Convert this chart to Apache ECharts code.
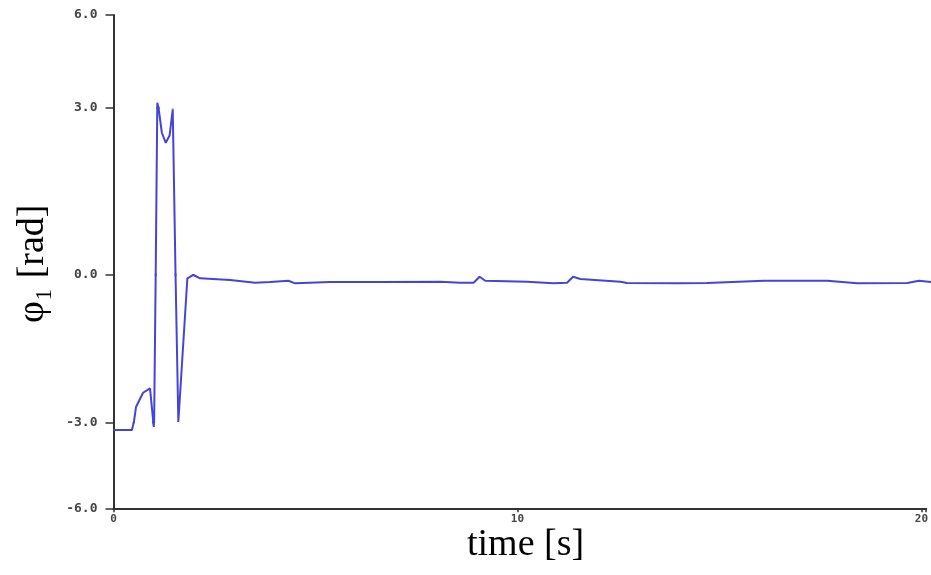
<!DOCTYPE html>
<html>
<head>
<meta charset="utf-8">
<script src="https://cdn.jsdelivr.net/npm/echarts@6/dist/echarts.min.js"></script>
<style>html,body{margin:0;padding:0;background:#fff}#c{width:931px;height:575px}</style>
</head>
<body>
<div id="c"></div>
<script>
// time [s]
const times = [0, 0.456, 0.554, 0.727, 0.899, 0.948, 0.998, 1.079, 1.190, 1.286, 1.380, 1.458, 1.596, 1.818, 1.966, 2.131, 2.869, 3.485, 3.855, 4.305, 4.470, 5.333, 6.564, 8.042, 8.534, 8.862, 9.010, 9.150, 10.177, 10.833, 11.163, 11.310, 11.490, 12.475, 12.640, 13.872, 14.611, 16.005, 17.567, 18.305, 19.537, 19.823, 20.12];
// phi1 [rad]
const phi1 = [-3.27, -3.27, -2.69, -2.40, -2.31, -2.30, -3.16, 3.16, 2.55, 2.37, 2.50, 2.97, -2.99, -0.073, -0.006, -0.073, -0.108, -0.163, -0.148, -0.122, -0.175, -0.148, -0.148, -0.142, -0.163, -0.163, -0.041, -0.122, -0.142, -0.175, -0.163, -0.041, -0.087, -0.142, -0.169, -0.175, -0.169, -0.122, -0.122, -0.175, -0.169, -0.122, -0.148];
// y-axis bands (tick labels at their edges)
const bandMins = [3, 0, -3, -6];
const bandMaxs = [6, 3, 0, -3];
const xTicks = [0, 10, 20];

const bandTops = [15, 107.7, 274.7, 422.3];
const bandHeights = [92.7, 167, 147.6, 86];

const data = times.map((t, i) => [t, phi1[i]]);
const grids = [], xAxes = [], yAxes = [], series = [];
bandMins.forEach((mn, i) => {
  const last = i === bandMins.length - 1;
  grids.push({left: 113.5, right: 0, top: bandTops[i], height: bandHeights[i], containLabel: false});
  xAxes.push({
    type: 'value', gridIndex: i, min: 0, max: 20.12, interval: 10, show: last,
    axisLine: {onZero: false, lineStyle: {color: '#333', width: 2}},
    axisTick: {show: true, inside: false, length: 4, lineStyle: {color: '#333', width: 1.5}},
    splitLine: {show: false},
    axisLabel: {
      margin: 5, color: '#444', fontFamily: 'DejaVu Sans Mono', fontWeight: 'bold', fontSize: 11,
      formatter: v => (xTicks.indexOf(v) >= 0 ? String(v) : '')
    }
  });
  yAxes.push({
    type: 'value', gridIndex: i, min: mn, max: bandMaxs[i], interval: 3,
    axisLine: {show: true, lineStyle: {color: '#333', width: 2}},
    axisTick: {show: true, inside: false, length: 8, lineStyle: {color: '#333', width: 1.5}},
    splitLine: {show: false},
    axisLabel: {
      show: true, showMinLabel: last, showMaxLabel: true, margin: 16, color: '#444',
      fontFamily: 'DejaVu Sans Mono', fontWeight: 'bold', fontSize: 13,
      formatter: v => v.toFixed(1)
    }
  });
  series.push({
    type: 'line', xAxisIndex: i, yAxisIndex: i, data: data, showSymbol: false, clip: true,
    lineStyle: {color: '#4444d8', width: 2}, silent: true, animation: false
  });
});

const chart = echarts.init(document.getElementById('c'));
chart.setOption({
  animation: false,
  grid: grids, xAxis: xAxes, yAxis: yAxes, series: series,
  graphic: [
    {type: 'text', left: 467, top: 526, style: {text: 'time [s]', font: '38px "Liberation Serif"', fill: '#000'}},
    {type: 'text', x: 14, y: 323, rotation: Math.PI / 2, style: {text: 'φ₁ [rad]', font: '38px "Liberation Serif"', fill: '#000', textVerticalAlign: 'top'}}
  ]
});
</script>
</body>
</html>
